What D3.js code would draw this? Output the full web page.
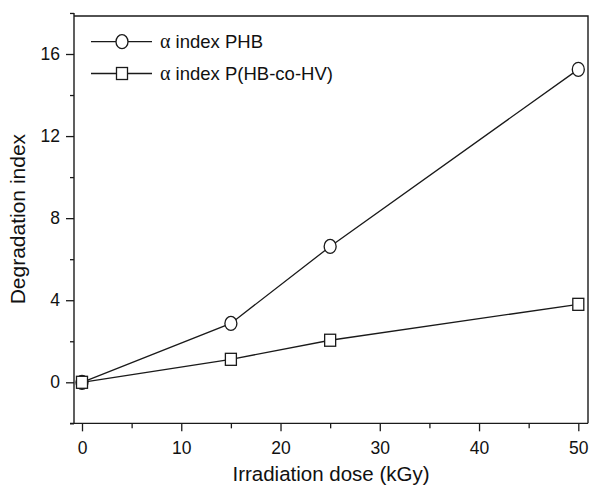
<!DOCTYPE html>
<html><head><meta charset="utf-8">
<script src="https://cdn.jsdelivr.net/npm/d3@7"></script>
<style>body{margin:0;background:#fff}svg{display:block}text{font-family:"Liberation Sans",Arial,sans-serif;fill:#111}</style>
</head><body>
<script>
const doses = [0, 15, 25, 50];
const phbValues = [0, 2.87, 6.62, 15.25];
const copolyValues = [0, 1.12, 2.05, 3.8];
const seriesNames = ["index PHB", "index P(HB-co-HV)"];
const xTicks = [0, 10, 20, 30, 40, 50];
const xMinorTicks = [5, 15, 25, 35, 45];
const yTicks = [0, 4, 8, 12, 16];
const yMinorTicks = [-2, 2, 6, 10, 14, 18];

const W = 590, H = 487;
const svg = d3.select("body").append("svg").attr("width", W).attr("height", H);
const x = d3.scaleLinear().domain([0, 50]).range([82, 578.3]);
const y = d3.scaleLinear().domain([0, 16]).range([382.3, 54]);
const pLeft = 74, pRight = 588, pTop = 16, pBottom = y(-2);
const col = "#1a1a1a";

// frame top & right
svg.append("path").attr("d", `M${pLeft},${pTop}H${pRight}V${pBottom}`).attr("fill","none").attr("stroke",col).attr("stroke-width",1.4);

// y axis
const yAxis = d3.axisLeft(y).tickValues(yTicks).tickSize(8).tickPadding(6).tickFormat(d3.format("d"));
const gy = svg.append("g").attr("transform", `translate(${pLeft},0)`).call(yAxis);
gy.select(".domain").remove();
svg.append("line").attr("x1",pLeft).attr("x2",pLeft).attr("y1",y(18)).attr("y2",pBottom).attr("stroke",col).attr("stroke-width",1.4);
svg.append("g").attr("transform", `translate(${pLeft},0)`).call(d3.axisLeft(y).tickValues(yMinorTicks).tickSize(4).tickFormat("")).select(".domain").remove();

// x axis
const xAxis = d3.axisBottom(x).tickValues(xTicks).tickSize(8).tickPadding(10).tickFormat(d3.format("d"));
const gx = svg.append("g").attr("transform", `translate(0,${pBottom})`).call(xAxis);
gx.select(".domain").remove();
svg.append("line").attr("x1",70).attr("x2",pRight).attr("y1",pBottom).attr("y2",pBottom).attr("stroke",col).attr("stroke-width",1.4);
svg.append("g").attr("transform", `translate(0,${pBottom})`).call(d3.axisBottom(x).tickValues(xMinorTicks).tickSize(5).tickFormat("")).select(".domain").remove();

svg.selectAll(".tick line").attr("stroke",col).attr("stroke-width",1.3);
svg.selectAll(".tick text").attr("font-size",17.5).attr("fill","#111").style("font-family","'Liberation Sans',Arial,sans-serif");

// axis titles
svg.append("text").attr("x",(pLeft+pRight)/2).attr("y",481).attr("text-anchor","middle").attr("font-size",20.5).text("Irradiation dose (kGy)");
svg.append("text").attr("transform",`translate(25,${(y(18)+pBottom)/2 + 1}) rotate(-90)`).attr("text-anchor","middle").attr("font-size",21).text("Degradation index");

// lines
const line = d3.line().x((d,i)=>x(doses[i])).y(d=>y(d));
[phbValues, copolyValues].forEach(v=>{
  svg.append("path").attr("d", line(v)).attr("fill","none").attr("stroke",col).attr("stroke-width",1.3);
});
// markers
svg.selectAll(".c").data(phbValues).enter().append("ellipse")
  .attr("cx",(d,i)=>x(doses[i])).attr("cy",d=>y(d)).attr("rx",6).attr("ry",7)
  .attr("fill","#fff").attr("stroke",col).attr("stroke-width",1.3);
svg.selectAll(".s").data(copolyValues).enter().append("rect")
  .attr("x",(d,i)=>x(doses[i])-5.5).attr("y",d=>y(d)-6).attr("width",11).attr("height",12)
  .attr("fill","#fff").attr("stroke",col).attr("stroke-width",1.3);

// legend
const lg = [{y:41.7, m:"c"},{y:73.5, m:"s"}];
lg.forEach((l,i)=>{
  svg.append("line").attr("x1",91).attr("x2",152).attr("y1",l.y).attr("y2",l.y).attr("stroke",col).attr("stroke-width",1.3);
  if(l.m==="c") svg.append("ellipse").attr("cx",122).attr("cy",l.y).attr("rx",6).attr("ry",7).attr("fill","#fff").attr("stroke",col).attr("stroke-width",1.3);
  else svg.append("rect").attr("x",116.5).attr("y",l.y-6).attr("width",11).attr("height",12).attr("fill","#fff").attr("stroke",col).attr("stroke-width",1.3);
  const t = svg.append("text").attr("x",160).attr("y",l.y+6).attr("font-size",18.5);
  t.append("tspan").style("font-family","'Liberation Serif','Times New Roman',serif").attr("font-size",20).text("α");
  t.append("tspan").text(" " + seriesNames[i]);
});
</script>
</body></html>
